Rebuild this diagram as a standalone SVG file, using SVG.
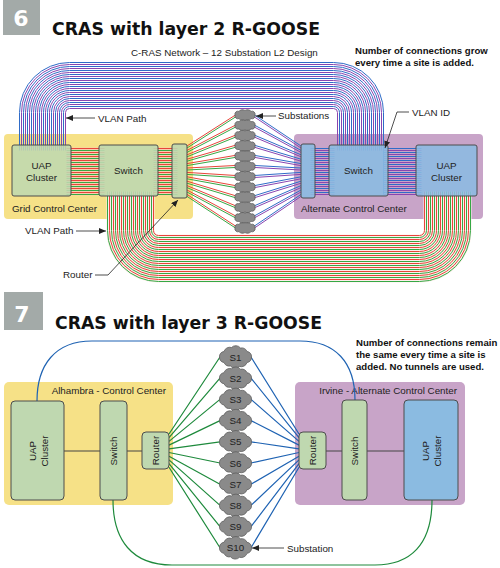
<svg xmlns="http://www.w3.org/2000/svg" width="500" height="568" viewBox="0 0 500 568">
<style>
.t{font-family:"Liberation Sans",Arial,sans-serif;font-size:9.8px;fill:#222}
.nb{font-family:"Liberation Sans",Arial,sans-serif;font-size:9.6px;font-weight:bold;fill:#111}
.ttl{font-family:"DejaVu Sans",Verdana,sans-serif;font-size:18.5px;font-weight:bold;fill:#111}
.num{font-family:"DejaVu Sans",Verdana,sans-serif;font-size:22px;font-weight:bold;fill:#fff}
.g{fill:#bfd8b0;stroke:#4d4d4d;stroke-width:1}
.b{fill:#8bbbe1;stroke:#4d4d4d;stroke-width:1}
.yl{fill:#f6e187}
.pu{fill:#c8a4c8}
.cl{fill:#8a8a8a;stroke:#5e5e5e;stroke-width:.8}
.bl{stroke:#2f6cc8;fill:none;stroke-width:1}
.pl{stroke:#8a45b0;fill:none;stroke-width:1}
.rd{stroke:#e8453a;fill:none;stroke-width:1}
.gr{stroke:#36a845;fill:none;stroke-width:1}
.ptr{stroke:#222;stroke-width:.8;fill:none;marker-end:url(#ah)}
.lb{stroke:#1f63b3;stroke-width:1.2;fill:none}
.lg{stroke:#1e8a3c;stroke-width:1.2;fill:none}
.lk{stroke:#444;stroke-width:1.2;fill:none}
</style>
<defs>
<marker id="ah" markerWidth="7" markerHeight="6" refX="7" refY="3" orient="auto" markerUnits="userSpaceOnUse"><path d="M0,0 L7,3 L0,6 z" fill="#222"/></marker>
<path id="c1" d="M-10,0 A3 3 0 0 1 -6,-3.6 A4 3 0 0 1 0,-4.6 A4 3 0 0 1 6,-3.6 A3 3 0 0 1 10,0 A3 3 0 0 1 6,3.6 A4 3 0 0 1 0,4.6 A4 3 0 0 1 -6,3.6 A3 3 0 0 1 -10,0 Z"/>
<path id="c2" d="M-16,0 A5 5 0 0 1 -11.5,-5.5 A6 6 0 0 1 -4,-9.5 A6 6 0 0 1 5,-9 A6 6 0 0 1 11.5,-5.5 A5 5 0 0 1 16,0 A5 5 0 0 1 11.5,5.5 A6 6 0 0 1 4,9.5 A6 6 0 0 1 -5,9 A6 6 0 0 1 -11.5,5.5 A5 5 0 0 1 -16,0 Z"/>
</defs>

<!-- Header 6 -->
<rect x="3" y="0" width="37" height="35" fill="#a3aaa8"/>
<text class="num" x="21" y="26" text-anchor="middle">6</text>
<text class="ttl" x="52" y="35" textLength="268" lengthAdjust="spacingAndGlyphs">CRAS with layer 2 R-GOOSE</text>
<text class="t" x="131" y="56">C-RAS Network – 12 Substation L2 Design</text>
<text class="nb" x="355" y="54">Number of connections grow</text>
<text class="nb" x="355" y="66">every time a site is added.</text>

<!-- regions top -->
<g id="grid-cc"><rect class="yl" x="4" y="134" width="189" height="85" rx="4"/><text class="t" x="12" y="212">Grid Control Center</text></g>
<g id="alt-cc"><rect class="pu" x="294" y="134" width="189" height="85" rx="4"/><text class="t" x="301" y="212">Alternate Control Center</text></g>

<g id="connectors-top">
<g transform="translate(0.5,0.5)">
<path d="M130,191 V230 A28 28 0 0 0 158,258 H419 A28 28 0 0 0 447,230 V191" stroke="#fdf0ec" stroke-width="48" fill="none"/>
<rect x="66" y="147" width="38" height="48" fill="#f7cfae"/>
<rect x="153" y="147" width="24" height="48" fill="#f7cfae"/>
<!-- top bundle -->
<path class="bl" d="M19,150 V112 A50 50 0 0 1 69,62 H333 A50 50 0 0 1 383,112 V194"/>
<path class="pl" d="M21,150 V112 A48 48 0 0 1 69,64 H333 A48 48 0 0 1 381,112 V150"/>
<path class="bl" d="M23,150 V112 A46 46 0 0 1 69,66 H333 A46 46 0 0 1 379,112 V150"/>
<path class="pl" d="M25,150 V112 A44 44 0 0 1 69,68 H333 A44 44 0 0 1 377,112 V150"/>
<path class="bl" d="M27,150 V112 A42 42 0 0 1 69,70 H333 A42 42 0 0 1 375,112 V150"/>
<path class="pl" d="M29,150 V112 A40 40 0 0 1 69,72 H333 A40 40 0 0 1 373,112 V150"/>
<path class="bl" d="M31,150 V112 A38 38 0 0 1 69,74 H333 A38 38 0 0 1 371,112 V150"/>
<path class="pl" d="M33,150 V112 A36 36 0 0 1 69,76 H333 A36 36 0 0 1 369,112 V150"/>
<path class="bl" d="M35,150 V112 A34 34 0 0 1 69,78 H333 A34 34 0 0 1 367,112 V150"/>
<path class="pl" d="M37,150 V112 A32 32 0 0 1 69,80 H333 A32 32 0 0 1 365,112 V150"/>
<path class="bl" d="M39,150 V112 A30 30 0 0 1 69,82 H333 A30 30 0 0 1 363,112 V150"/>
<path class="pl" d="M41,150 V112 A28 28 0 0 1 69,84 H333 A28 28 0 0 1 361,112 V150"/>
<path class="bl" d="M43,150 V112 A26 26 0 0 1 69,86 H333 A26 26 0 0 1 359,112 V150"/>
<path class="pl" d="M45,150 V112 A24 24 0 0 1 69,88 H333 A24 24 0 0 1 357,112 V150"/>
<path class="bl" d="M47,150 V112 A22 22 0 0 1 69,90 H333 A22 22 0 0 1 355,112 V150"/>
<path class="pl" d="M49,150 V112 A20 20 0 0 1 69,92 H333 A20 20 0 0 1 353,112 V150"/>
<path class="bl" d="M51,150 V112 A18 18 0 0 1 69,94 H333 A18 18 0 0 1 351,112 V150"/>
<path class="pl" d="M53,150 V112 A16 16 0 0 1 69,96 H333 A16 16 0 0 1 349,112 V150"/>
<path class="bl" d="M55,150 V112 A14 14 0 0 1 69,98 H333 A14 14 0 0 1 347,112 V150"/>
<path class="pl" d="M57,150 V112 A12 12 0 0 1 69,100 H333 A12 12 0 0 1 345,112 V150"/>
<path class="bl" d="M59,150 V112 A10 10 0 0 1 69,102 H333 A10 10 0 0 1 343,112 V150"/>
<path class="pl" d="M61,150 V112 A8 8 0 0 1 69,104 H333 A8 8 0 0 1 341,112 V150"/>
<path class="bl" d="M63,150 V112 A6 6 0 0 1 69,106 H333 A6 6 0 0 1 339,112 V150"/>
<path class="pl" d="M65,150 V112 A4 4 0 0 1 69,108 H333 A4 4 0 0 1 337,112 V150"/>
<!-- bottom bundle -->
<path class="gr" d="M107,191 V230 A51 51 0 0 0 158,281 H419 A51 51 0 0 0 470,230 V191"/>
<path class="rd" d="M109,191 V230 A49 49 0 0 0 158,279 H419 A49 49 0 0 0 468,230 V191"/>
<path class="gr" d="M111,191 V230 A47 47 0 0 0 158,277 H419 A47 47 0 0 0 466,230 V191"/>
<path class="rd" d="M113,191 V230 A45 45 0 0 0 158,275 H419 A45 45 0 0 0 464,230 V191"/>
<path class="gr" d="M115,191 V230 A43 43 0 0 0 158,273 H419 A43 43 0 0 0 462,230 V191"/>
<path class="rd" d="M117,191 V230 A41 41 0 0 0 158,271 H419 A41 41 0 0 0 460,230 V191"/>
<path class="gr" d="M119,191 V230 A39 39 0 0 0 158,269 H419 A39 39 0 0 0 458,230 V191"/>
<path class="rd" d="M121,191 V230 A37 37 0 0 0 158,267 H419 A37 37 0 0 0 456,230 V191"/>
<path class="gr" d="M123,191 V230 A35 35 0 0 0 158,265 H419 A35 35 0 0 0 454,230 V191"/>
<path class="rd" d="M125,191 V230 A33 33 0 0 0 158,263 H419 A33 33 0 0 0 452,230 V191"/>
<path class="gr" d="M127,191 V230 A31 31 0 0 0 158,261 H419 A31 31 0 0 0 450,230 V191"/>
<path class="rd" d="M129,191 V230 A29 29 0 0 0 158,259 H419 A29 29 0 0 0 448,230 V191"/>
<path class="gr" d="M131,191 V230 A27 27 0 0 0 158,257 H419 A27 27 0 0 0 446,230 V191"/>
<path class="rd" d="M133,191 V230 A25 25 0 0 0 158,255 H419 A25 25 0 0 0 444,230 V191"/>
<path class="gr" d="M135,191 V230 A23 23 0 0 0 158,253 H419 A23 23 0 0 0 442,230 V191"/>
<path class="rd" d="M137,191 V230 A21 21 0 0 0 158,251 H419 A21 21 0 0 0 440,230 V191"/>
<path class="gr" d="M139,191 V230 A19 19 0 0 0 158,249 H419 A19 19 0 0 0 438,230 V191"/>
<path class="rd" d="M141,191 V230 A17 17 0 0 0 158,247 H419 A17 17 0 0 0 436,230 V191"/>
<path class="gr" d="M143,191 V230 A15 15 0 0 0 158,245 H419 A15 15 0 0 0 434,230 V191"/>
<path class="rd" d="M145,191 V230 A13 13 0 0 0 158,243 H419 A13 13 0 0 0 432,230 V191"/>
<path class="gr" d="M147,191 V230 A11 11 0 0 0 158,241 H419 A11 11 0 0 0 430,230 V191"/>
<path class="rd" d="M149,191 V230 A9 9 0 0 0 158,239 H419 A9 9 0 0 0 428,230 V191"/>
<path class="gr" d="M151,191 V230 A7 7 0 0 0 158,237 H419 A7 7 0 0 0 426,230 V191"/>
<path class="rd" d="M153,191 V230 A5 5 0 0 0 158,235 H419 A5 5 0 0 0 424,230 V191"/>
<!-- horizontal bundles left -->
<path class="rd" d="M66,148 H104 M153,148 H177 M66,152 H104 M153,152 H177 M66,156 H104 M153,156 H177 M66,160 H104 M153,160 H177 M66,164 H104 M153,164 H177 M66,168 H104 M153,168 H177 M66,172 H104 M153,172 H177 M66,176 H104 M153,176 H177 M66,180 H104 M153,180 H177 M66,184 H104 M153,184 H177 M66,188 H104 M153,188 H177 M66,192 H104 M153,192 H177"/>
<path class="gr" d="M66,150 H104 M153,150 H177 M66,154 H104 M153,154 H177 M66,158 H104 M153,158 H177 M66,162 H104 M153,162 H177 M66,166 H104 M153,166 H177 M66,170 H104 M153,170 H177 M66,174 H104 M153,174 H177 M66,178 H104 M153,178 H177 M66,182 H104 M153,182 H177 M66,186 H104 M153,186 H177 M66,190 H104 M153,190 H177 M66,194 H104 M153,194 H177"/>
<!-- horizontal bundles right -->
<path class="bl" d="M310,148 H334 M383,148 H421 M310,152 H334 M383,152 H421 M310,156 H334 M383,156 H421 M310,160 H334 M383,160 H421 M310,164 H334 M383,164 H421 M310,168 H334 M383,168 H421 M310,172 H334 M383,172 H421 M310,176 H334 M383,176 H421 M310,180 H334 M383,180 H421 M310,184 H334 M383,184 H421 M310,188 H334 M383,188 H421 M310,192 H334 M383,192 H421"/>
<path class="pl" d="M310,150 H334 M383,150 H421 M310,154 H334 M383,154 H421 M310,158 H334 M383,158 H421 M310,162 H334 M383,162 H421 M310,166 H334 M383,166 H421 M310,170 H334 M383,170 H421 M310,174 H334 M383,174 H421 M310,178 H334 M383,178 H421 M310,182 H334 M383,182 H421 M310,186 H334 M383,186 H421 M310,190 H334 M383,190 H421 M310,194 H334 M383,194 H421"/>
</g>
<!-- fans -->
<path class="rd" d="M187,146 L237,114 M187,150.4 L237,124.3 M187,154.8 L237,134.5 M187,159.2 L237,144.8 M187,163.6 L237,155.1 M187,168 L237,165.4 M187,172.4 L237,175.6 M187,176.8 L237,185.9 M187,181.2 L237,196.2 M187,185.6 L237,206.4 M187,190 L237,216.7 M187,194.4 L237,227"/>
<path class="gr" d="M187,148 L237,116 M187,152.4 L237,126.3 M187,156.8 L237,136.5 M187,161.2 L237,146.8 M187,165.6 L237,157.1 M187,170 L237,167.4 M187,174.4 L237,177.6 M187,178.8 L237,187.9 M187,183.2 L237,198.2 M187,187.6 L237,208.4 M187,192 L237,218.7 M187,196.4 L237,229"/>
<path class="bl" d="M301,146 L253,114 M301,150.4 L253,124.3 M301,154.8 L253,134.5 M301,159.2 L253,144.8 M301,163.6 L253,155.1 M301,168 L253,165.4 M301,172.4 L253,175.6 M301,176.8 L253,185.9 M301,181.2 L253,196.2 M301,185.6 L253,206.4 M301,190 L253,216.7 M301,194.4 L253,227"/>
<path class="pl" d="M301,148 L253,116 M301,152.4 L253,126.3 M301,156.8 L253,136.5 M301,161.2 L253,146.8 M301,165.6 L253,157.1 M301,170 L253,167.4 M301,174.4 L253,177.6 M301,178.8 L253,187.9 M301,183.2 L253,198.2 M301,187.6 L253,208.4 M301,192 L253,218.7 M301,196.4 L253,229"/>
</g>

<!-- nodes top -->
<g id="uap-left-6"><rect class="g" x="12" y="145" width="59" height="51" rx="2" fill-opacity=".88"/><text class="t" x="41.5" y="169" text-anchor="middle" font-size="10.5">UAP</text><text class="t" x="41.5" y="181" text-anchor="middle" font-size="10.5">Cluster</text></g>
<g id="switch-left-6"><rect class="g" x="99" y="145" width="59" height="51" rx="2" fill-opacity=".9"/><text class="t" x="128.5" y="174" text-anchor="middle" font-size="10.5">Switch</text></g>
<g id="router-left-6"><rect class="g" x="172" y="144" width="15" height="54" rx="2" fill-opacity=".9"/></g>
<g id="router-right-6"><rect class="b" x="301" y="144" width="14" height="54" rx="2" fill-opacity=".9"/></g>
<g id="switch-right-6"><rect class="b" x="329" y="145" width="59" height="51" rx="2" fill-opacity=".9"/><text class="t" x="358.5" y="174" text-anchor="middle" font-size="10.5">Switch</text></g>
<g id="uap-right-6"><rect class="b" x="416" y="145" width="61" height="51" rx="2" fill-opacity=".88"/><text class="t" x="446.5" y="169" text-anchor="middle" font-size="10.5">UAP</text><text class="t" x="446.5" y="181" text-anchor="middle" font-size="10.5">Cluster</text></g>

<g id="substations-6">
<use href="#c1" class="cl" x="245" y="115"/><use href="#c1" class="cl" x="245" y="125.3"/><use href="#c1" class="cl" x="245" y="135.5"/><use href="#c1" class="cl" x="245" y="145.8"/><use href="#c1" class="cl" x="245" y="156.1"/><use href="#c1" class="cl" x="245" y="166.4"/><use href="#c1" class="cl" x="245" y="176.6"/><use href="#c1" class="cl" x="245" y="186.9"/><use href="#c1" class="cl" x="245" y="197.2"/><use href="#c1" class="cl" x="245" y="207.4"/><use href="#c1" class="cl" x="245" y="217.7"/><use href="#c1" class="cl" x="245" y="228"/>
</g>

<g id="callouts-6">
<text class="t" x="98" y="122">VLAN Path</text><path class="ptr" d="M95,118 H66"/>
<text class="t" x="278" y="119">Substations</text><path class="ptr" d="M276,116 H256"/>
<text class="t" x="412" y="116">VLAN ID</text><path class="ptr" d="M409,112 H397 L385,148"/>
<text class="t" x="25" y="234">VLAN Path</text><path class="ptr" d="M76,231 H106"/>
<text class="t" x="63" y="278">Router</text><path class="ptr" d="M95,275 H108 L178,200"/>
</g>

<!-- Header 7 -->
<rect x="4" y="292" width="39" height="38" fill="#a3aaa8"/>
<text class="num" x="22" y="322" text-anchor="middle">7</text>
<text class="ttl" x="55" y="329" textLength="267" lengthAdjust="spacingAndGlyphs">CRAS with layer 3 R-GOOSE</text>
<text class="nb" x="356" y="346" font-size="9.5">Number of connections remain</text>
<text class="nb" x="356" y="358" font-size="9.5">the same every time a site is</text>
<text class="nb" x="356" y="370" font-size="9.5">added. No tunnels are used.</text>

<g id="alhambra-cc"><rect class="yl" x="4" y="382" width="169" height="123" rx="5"/><text class="t" x="166" y="394" text-anchor="end" font-size="9.6">Alhambra - Control Center</text></g>
<g id="irvine-cc"><rect class="pu" x="295" y="382" width="170" height="123" rx="5"/><text class="t" x="457" y="394" text-anchor="end" font-size="9.6">Irvine - Alternate Control Center</text></g>

<g id="connectors-7">
<path class="lb" d="M37,401 C37,365 55,341 92,341 L300,341 C335,341 355,362 355,400"/>
<path class="lg" d="M113,500 C113,540 132,565 172,565 L375,565 C410,565 432,545 432,500"/>
<path class="lk" d="M64,451 H100 M127,451 H142 M326,451 H342 M367,451 H404"/>
<path class="lg" d="M169,434 L220,357 M169,437.7 L220,378.2 M169,441.4 L220,399.4 M169,445.1 L220,420.6 M169,448.8 L220,441.8 M169,452.5 L220,463 M169,456.2 L220,484.2 M169,459.9 L220,505.4 M169,463.6 L220,526.6 M169,467.3 L220,547.8"/>
<path class="lb" d="M299,434 L251,357 M299,437.7 L251,378.2 M299,441.4 L251,399.4 M299,445.1 L251,420.6 M299,448.8 L251,441.8 M299,452.5 L251,463 M299,456.2 L251,484.2 M299,459.9 L251,505.4 M299,463.6 L251,526.6 M299,467.3 L251,547.8"/>
</g>

<g id="uap-left-7"><rect class="g" x="11" y="401" width="53" height="99" rx="4"/><text class="t" font-size="10.5" text-anchor="middle" transform="translate(37.5,451) rotate(-90)"><tspan x="0" y="-2">UAP</tspan><tspan x="0" y="10">Cluster</tspan></text></g>
<g id="switch-left-7"><rect class="g" x="100" y="401" width="27" height="99" rx="4"/><text class="t" font-size="10.5" text-anchor="middle" transform="translate(117,451) rotate(-90)" x="0" y="0">Switch</text></g>
<g id="router-left-7"><rect class="g" x="142" y="432" width="27" height="37" rx="4"/><text class="t" font-size="10.5" text-anchor="middle" transform="translate(159,450.5) rotate(-90)" x="0" y="0">Router</text></g>
<g id="router-right-7"><rect class="g" x="299" y="432" width="27" height="37" rx="4"/><text class="t" font-size="10.5" text-anchor="middle" transform="translate(316,450.5) rotate(-90)" x="0" y="0">Router</text></g>
<g id="switch-right-7"><rect class="g" x="342" y="400" width="25" height="100" rx="4"/><text class="t" font-size="10.5" text-anchor="middle" transform="translate(358,451) rotate(-90)" x="0" y="0">Switch</text></g>
<g id="uap-right-7"><rect class="b" x="404" y="400" width="54" height="100" rx="4"/><text class="t" font-size="10.5" text-anchor="middle" transform="translate(431,451) rotate(-90)"><tspan x="0" y="-2">UAP</tspan><tspan x="0" y="10">Cluster</tspan></text></g>

<g id="substations-7">
<g><use href="#c2" class="cl" x="235.5" y="357"/><text class="t" x="235.5" y="360.5" text-anchor="middle">S1</text></g>
<g><use href="#c2" class="cl" x="235.5" y="378.2"/><text class="t" x="235.5" y="381.7" text-anchor="middle">S2</text></g>
<g><use href="#c2" class="cl" x="235.5" y="399.4"/><text class="t" x="235.5" y="402.9" text-anchor="middle">S3</text></g>
<g><use href="#c2" class="cl" x="235.5" y="420.6"/><text class="t" x="235.5" y="424.1" text-anchor="middle">S4</text></g>
<g><use href="#c2" class="cl" x="235.5" y="441.8"/><text class="t" x="235.5" y="445.3" text-anchor="middle">S5</text></g>
<g><use href="#c2" class="cl" x="235.5" y="463"/><text class="t" x="235.5" y="466.5" text-anchor="middle">S6</text></g>
<g><use href="#c2" class="cl" x="235.5" y="484.2"/><text class="t" x="235.5" y="487.7" text-anchor="middle">S7</text></g>
<g><use href="#c2" class="cl" x="235.5" y="505.4"/><text class="t" x="235.5" y="508.9" text-anchor="middle">S8</text></g>
<g><use href="#c2" class="cl" x="235.5" y="526.6"/><text class="t" x="235.5" y="530.1" text-anchor="middle">S9</text></g>
<g><use href="#c2" class="cl" x="235.5" y="547.8"/><text class="t" x="235.5" y="551.3" text-anchor="middle">S10</text></g>
</g>

<g id="callouts-7">
<text class="t" x="287" y="552">Substation</text><path class="ptr" d="M284,548 H252"/>
</g>
</svg>
